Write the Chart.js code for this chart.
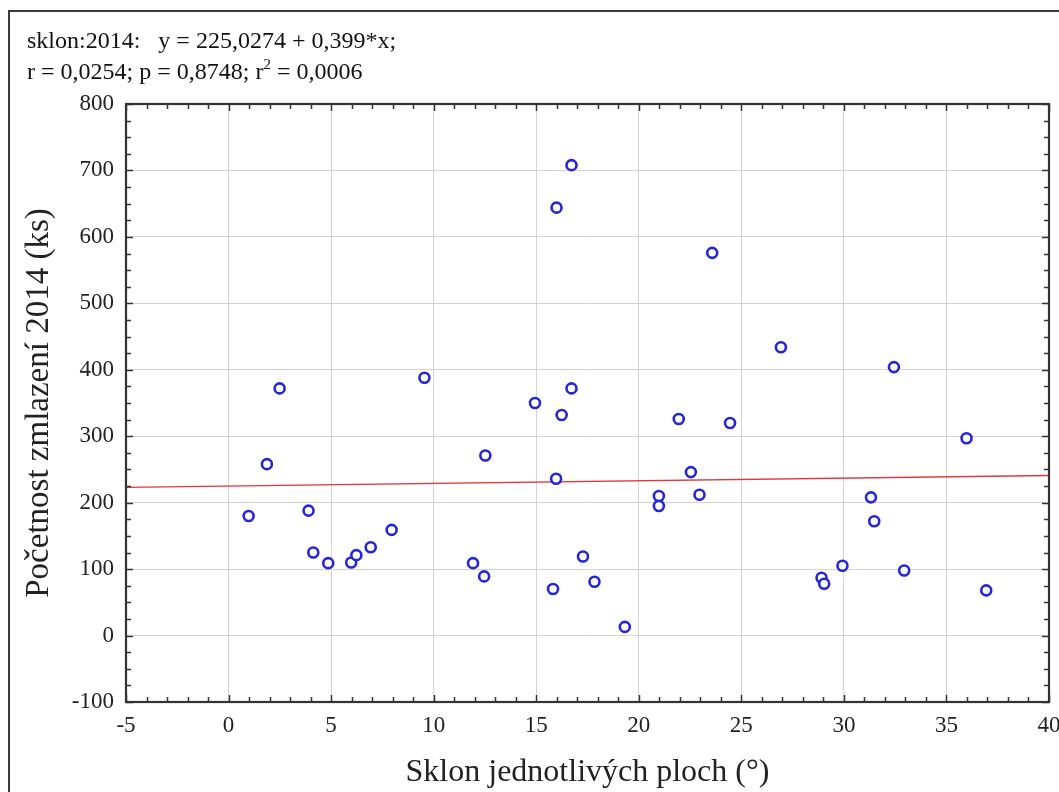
<!DOCTYPE html>
<html><head><meta charset="utf-8">
<script src="https://cdn.jsdelivr.net/npm/chart.js@4/dist/chart.umd.min.js"></script>
<style>
html,body{margin:0;padding:0;background:#fff;}
#wrap{position:relative;width:1059px;height:792px;overflow:hidden;background:#fff;}
#frame{position:absolute;left:8px;top:10px;width:1200px;height:900px;border-left:2px solid #3a3a3a;border-top:2px solid #3a3a3a;}
#stats{position:absolute;left:27px;top:25px;font-family:"Liberation Serif",serif;font-size:24px;line-height:31px;color:#111;white-space:pre;}
#stats sup{font-size:15px;line-height:0;vertical-align:10px;}
canvas{position:absolute;left:0;top:0;}
</style></head>
<body>
<div id="wrap">
<div id="frame"></div>
<canvas id="c" width="1059" height="792"></canvas>
<div id="stats"><div id="l1"></div><div id="l2"></div></div>
</div>
<script>
// ---- data ----
const slopeDeg = [0.98,1.87,2.49,3.9,4.13,4.86,5.98,6.23,6.93,7.95,9.55,11.92,12.46,12.52,14.94,15.82,15.97,16.24,16.72,17.28,17.84,19.32,15.99,16.72,23.58,26.93,21.95,24.45,22.54,20.98,20.98,22.96,35.98,31.32,31.48,28.91,29.04,29.93,32.94,36.94,32.44];
const count2014 = [180,258,372,188,125,109,110,121,133,159,388,109,89,271,350,70,236,332,372,119,81,13,644,708,576,434,326,320,246,210,195,212,297,208,172,87,78,105,98,68,404];
const intercept = 225.0274;
const slope = 0.399;
const statR = "0,0254";
const statP = "0,8748";
const statR2 = "0,0006";
const xTickMin = -5, xTickMax = 40, xStep = 5;
const yTickMin = -100, yTickMax = 800, yStep = 100;
const xTitle = "Sklon jednotlivých ploch (°)";
const yTitle = "Početnost zmlazení 2014 (ks)";
const groupLabel = "sklon:2014:";

document.getElementById('l1').textContent = groupLabel + "   y = " + intercept.toFixed(4).replace('.', ',') + " + " + String(slope).replace('.', ',') + "*x;";
document.getElementById('l2').innerHTML = "r = " + statR + "; p = " + statP + "; r<sup>2</sup> = " + statR2;

const points = slopeDeg.map((v, i) => ({x: v, y: count2014[i]}));
const fitLine = [xTickMin, xTickMax].map(v => ({x: v, y: intercept + slope * v}));

const SERIF = '"Liberation Serif", "Times New Roman", serif';

const boxPlugin = {
  id: 'box',
  afterDatasetsDraw(chart) {
    const {ctx, chartArea: a, scales: {x, y}} = chart;
    ctx.save();
    ctx.strokeStyle = '#333';
    ctx.lineWidth = 1.5;
    const seg = (x1, y1, x2, y2) => { ctx.beginPath(); ctx.moveTo(x1, y1); ctx.lineTo(x2, y2); ctx.stroke(); };
    for (let v = xTickMin; v <= xTickMax; v += 1) {
      const px = Math.round(x.getPixelForValue(v)) + 0.5;
      const len = (v % 5 === 0) ? 7 : 5;
      seg(px, a.bottom, px, a.bottom - len);
      seg(px, a.top, px, a.top + len);
    }
    for (let v = yTickMin; v <= yTickMax; v += 25) {
      const py = Math.round(y.getPixelForValue(v)) + 0.5;
      const len = (v % 100 === 0) ? 7 : 5;
      seg(a.left, py, a.left + len, py);
      seg(a.right, py, a.right - len, py);
    }
    ctx.lineWidth = 2.2;
    ctx.strokeRect(a.left, a.top, a.right - a.left, a.bottom - a.top);
    ctx.restore();
  }
};

new Chart(document.getElementById('c'), {
  type: 'scatter',
  data: {
    datasets: [
      {
        label: 'data',
        data: points,
        order: 0,
        pointRadius: 5,
        pointHoverRadius: 5,
        pointBorderWidth: 2.6,
        pointBorderColor: '#2626d4',
        pointBackgroundColor: '#ffffff',
        showLine: false
      },
      {
        label: 'fit',
        type: 'line',
        data: fitLine,
        order: 1,
        borderColor: '#e0383c',
        borderWidth: 1.4,
        pointRadius: 0,
        fill: false
      }
    ]
  },
  options: {
    responsive: false,
    animation: false,
    events: [],
    layout: {padding: {left: 0, top: 104, right: 10, bottom: 0}},
    plugins: {legend: {display: false}, tooltip: {enabled: false}},
    scales: {
      x: {
        type: 'linear',
        min: xTickMin, max: xTickMax,
        afterFit(s) { s.height = 90; s.paddingLeft = 0; s.paddingRight = 0; },
        ticks: {stepSize: xStep, color: '#222', padding: 10, font: {family: SERIF, size: 23}, maxRotation: 0},
        grid: {color: '#d3d3d3', lineWidth: 1, drawTicks: false},
        border: {display: false},
        title: {display: true, text: xTitle, color: '#222', font: {family: SERIF, size: 32}, padding: {top: 0, bottom: 0}}
      },
      y: {
        type: 'linear',
        min: yTickMin, max: yTickMax,
        afterFit(s) { s.width = 126; s.paddingTop = 0; s.paddingBottom = 0; },
        ticks: {stepSize: yStep, color: '#222', padding: 12, font: {family: SERIF, size: 23}},
        grid: {color: '#d3d3d3', lineWidth: 1, drawTicks: false},
        border: {display: false},
        title: {display: true, text: yTitle, color: '#222', font: {family: SERIF, size: 33}, padding: {top: 20, bottom: 0}}
      }
    }
  },
  plugins: [boxPlugin]
});
</script>
</body></html>
